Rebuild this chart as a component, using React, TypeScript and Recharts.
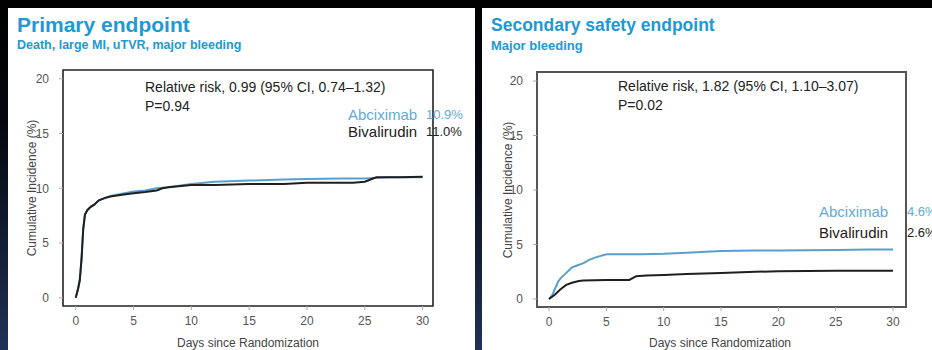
import React from 'react';
import { LineChart, Line, XAxis, YAxis, ReferenceArea } from 'recharts';

const dayTicks = [0, 5, 10, 15, 20, 25, 30];
const pctTicks = [0, 5, 10, 15, 20];

// Primary endpoint: death, large MI, uTVR, major bleeding
const primaryAbcDays = [0, 0.2, 0.35, 0.5, 0.65, 0.8, 1.0, 1.3, 1.6, 2.0, 2.5, 3.0, 4.0, 5.0, 6.0, 7.0, 8.0, 10, 12, 15, 18, 20, 23, 25, 27, 30];
const primaryAbcPct = [0, 0.8, 1.6, 3.5, 6.3, 7.6, 8.0, 8.3, 8.5, 8.9, 9.1, 9.3, 9.5, 9.7, 9.8, 10.0, 10.1, 10.4, 10.6, 10.7, 10.8, 10.85, 10.9, 10.9, 11.0, 11.0];
const primaryBivDays = [0, 0.2, 0.35, 0.5, 0.65, 0.8, 1.0, 1.3, 1.6, 2.0, 2.5, 3.0, 4.0, 5.0, 6.0, 7.0, 7.5, 8.0, 10, 12, 15, 18, 20, 22, 24, 25, 26, 28, 30];
const primaryBivPct = [0, 0.8, 1.6, 3.5, 6.3, 7.6, 8.0, 8.3, 8.5, 8.9, 9.1, 9.25, 9.4, 9.55, 9.65, 9.8, 10.0, 10.1, 10.3, 10.3, 10.4, 10.4, 10.5, 10.5, 10.5, 10.6, 11.0, 11.0, 11.05];

// Secondary safety endpoint: major bleeding
const bleedAbcDays = [0, 0.3, 0.5, 0.8, 1.0, 1.5, 2.0, 2.5, 3.0, 3.5, 4.0, 5.0, 6.0, 8.0, 10, 12, 15, 18, 20, 25, 28, 30];
const bleedAbcPct = [0, 0.4, 0.9, 1.6, 1.9, 2.4, 2.9, 3.1, 3.3, 3.6, 3.8, 4.1, 4.1, 4.1, 4.15, 4.25, 4.4, 4.45, 4.45, 4.5, 4.55, 4.55];
const bleedBivDays = [0, 0.5, 1.0, 1.5, 2.0, 2.6, 3.0, 5.0, 7.0, 7.6, 8.5, 10, 12, 15, 18, 20, 25, 30];
const bleedBivPct = [0, 0.4, 0.9, 1.3, 1.5, 1.65, 1.7, 1.75, 1.75, 2.1, 2.15, 2.2, 2.3, 2.4, 2.5, 2.55, 2.6, 2.6];

const toPoints = (days: number[], pct: number[]) => days.map((d, i) => ({ day: d, pct: pct[i] }));

const FONT = 'Arial, "Liberation Sans", Helvetica, sans-serif';
const TITLE_BLUE = '#2298d4';
const ABC_BLUE = '#64aad6';

interface PanelProps {
  left: number;
  width: number;
  title: string;
  titleSize: number;
  subtitle: string;
  subtitleSize: number;
  rr: string;
  p: string;
  abcPct: string;
  bivPct: string;
  abc: { day: number; pct: number }[];
  biv: { day: number; pct: number }[];
  margin: { top: number; right: number; left: number; bottom: number };
  xAxisHeight: number;
  xDomain: [number, number];
  yDomain: [number, number];
  frameColor: string;
  frameWidth: number;
  rrTop: number;
  rrLeft: number;
  legendTop: number;
  legendGap: number;
  legendLeft: number;
  pctLeft: number;
  yTitleX: number;
  yTitleY: number;
  xTitleX: number;
}

const text = (style: React.CSSProperties): React.CSSProperties => ({
  position: 'absolute',
  fontFamily: FONT,
  whiteSpace: 'nowrap',
  ...style,
});

const Panel: React.FC<PanelProps> = (pp) => (
  <div style={{ position: 'absolute', left: pp.left, top: 8, width: pp.width, height: 342, background: '#fff', overflow: 'hidden' }}>
    <div style={text({ left: 9, top: 6, fontSize: pp.titleSize, lineHeight: '22px', fontWeight: 'bold', color: TITLE_BLUE })}>{pp.title}</div>
    <div style={text({ left: 9, top: 30, fontSize: pp.subtitleSize, lineHeight: '15px', fontWeight: 'bold', color: TITLE_BLUE })}>{pp.subtitle}</div>

    <LineChart width={pp.width} height={342} margin={pp.margin}>
      <XAxis
        dataKey="day"
        type="number"
        domain={pp.xDomain}
        ticks={dayTicks}
        allowDataOverflow
        axisLine={false}
        tickSize={4}
        tickMargin={6}
        height={pp.xAxisHeight}
        tickLine={{ stroke: '#aaa' }}
        tick={{ fill: '#555', fontSize: 12, fontFamily: FONT }}
      />
      <YAxis
        type="number"
        domain={pp.yDomain}
        ticks={pctTicks}
        allowDataOverflow
        axisLine={false}
        width={55}
        tickSize={4}
        tickMargin={10}
        tickLine={{ stroke: '#aaa' }}
        tick={{ fill: '#555', fontSize: 12, fontFamily: FONT }}
      />
      <ReferenceArea
        x1={pp.xDomain[0]}
        x2={pp.xDomain[1]}
        y1={pp.yDomain[0]}
        y2={pp.yDomain[1]}
        fill="none"
        fillOpacity={0}
        stroke={pp.frameColor}
        strokeWidth={pp.frameWidth}
        ifOverflow="visible"
      />
      <Line data={pp.abc} dataKey="pct" type="linear" stroke="#5a9fcb" strokeWidth={2} dot={false} isAnimationActive={false} />
      <Line data={pp.biv} dataKey="pct" type="linear" stroke="#1f1f1f" strokeWidth={2} dot={false} isAnimationActive={false} />
    </LineChart>

    <div style={text({ left: pp.rrLeft, top: pp.rrTop, fontSize: 14, lineHeight: '19px', color: '#222' })}>
      {pp.rr}
      <br />
      {pp.p}
    </div>
    <div style={text({ left: pp.legendLeft, top: pp.legendTop, fontSize: 15, lineHeight: '18px', color: ABC_BLUE })}>Abciximab</div>
    <div style={text({ left: pp.pctLeft, top: pp.legendTop, fontSize: 13, lineHeight: '18px', color: ABC_BLUE })}>{pp.abcPct}</div>
    <div style={text({ left: pp.legendLeft, top: pp.legendTop + pp.legendGap, fontSize: 15, lineHeight: '18px', color: '#222' })}>Bivalirudin</div>
    <div style={text({ left: pp.pctLeft, top: pp.legendTop + pp.legendGap, fontSize: 13, lineHeight: '18px', color: '#222' })}>{pp.bivPct}</div>

    <div style={text({ left: pp.xTitleX, top: 328, fontSize: 12, lineHeight: '14px', color: '#444', transform: 'translateX(-50%)' })}>
      Days since Randomization
    </div>
    <div
      style={text({
        left: pp.yTitleX,
        top: pp.yTitleY,
        fontSize: 12,
        lineHeight: '14px',
        color: '#444',
        transform: 'translate(-50%, -50%) rotate(-90deg)',
      })}
    >
      Cumulative Incidence (%)
    </div>
  </div>
);

export default function App() {
  return (
    <div
      style={{
        position: 'fixed',
        left: 0,
        top: 0,
        width: 932,
        height: 350,
        overflow: 'hidden',
        background: 'linear-gradient(to bottom, #000 0%, #05080f 35%, #15213b 75%, #213257 100%)',
      }}
    >
      <Panel
        left={8}
        width={467}
        title="Primary endpoint"
        titleSize={21}
        subtitle="Death, large MI, uTVR, major bleeding"
        subtitleSize={12.5}
        rr="Relative risk, 0.99 (95% CI, 0.74–1.32)"
        p="P=0.94"
        abcPct="10.9%"
        bivPct="11.0%"
        abc={toPoints(primaryAbcDays, primaryAbcPct)}
        biv={toPoints(primaryBivDays, primaryBivPct)}
        margin={{ top: 62, right: 42, left: 0, bottom: 0 }}
        xAxisHeight={44}
        xDomain={[-1.1, 30.9]}
        yDomain={[-0.75, 20.8]}
        frameColor="#222"
        frameWidth={1.6}
        rrLeft={137}
        rrTop={70}
        legendLeft={340}
        legendTop={98}
        legendGap={17}
        pctLeft={418}
        yTitleX={24}
        yTitleY={180}
        xTitleX={240}
      />
      <Panel
        left={482}
        width={450}
        title="Secondary safety endpoint"
        titleSize={17.5}
        subtitle="Major bleeding"
        subtitleSize={13}
        rr="Relative risk, 1.82 (95% CI, 1.10–3.07)"
        p="P=0.02"
        abcPct="4.6%"
        bivPct="2.6%"
        abc={toPoints(bleedAbcDays, bleedAbcPct)}
        biv={toPoints(bleedBivDays, bleedBivPct)}
        margin={{ top: 64, right: 26, left: 0, bottom: 0 }}
        xAxisHeight={43}
        xDomain={[-1.05, 31.13]}
        yDomain={[-0.73, 20.83]}
        frameColor="#555"
        frameWidth={2}
        rrLeft={136}
        rrTop={69}
        legendLeft={337}
        legendTop={195}
        legendGap={21}
        pctLeft={425}
        yTitleX={26}
        yTitleY={182}
        xTitleX={238}
      />
    </div>
  );
}
